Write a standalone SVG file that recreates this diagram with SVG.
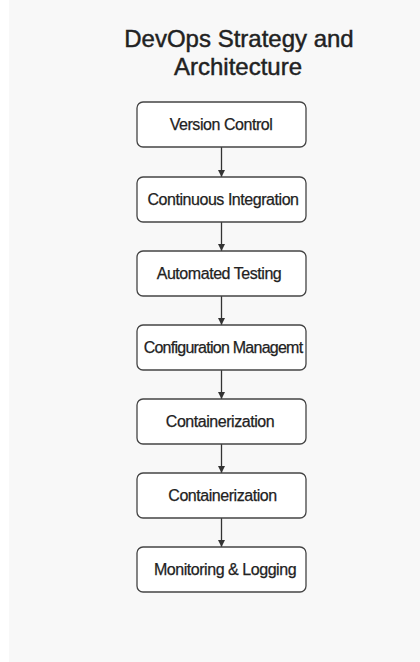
<svg xmlns="http://www.w3.org/2000/svg" width="420" height="662" viewBox="0 0 420 662">
  <defs>
    <marker id="arrow" viewBox="0 0 10 10" refX="10" refY="5" markerWidth="7" markerHeight="7" markerUnits="userSpaceOnUse" orient="auto">
      <path d="M0,0 L10,5 L0,10 Z" fill="#333"/>
    </marker>
    <style>
      .title { font-family: "Liberation Sans", Arial, sans-serif; font-size: 24px; fill: #222; stroke: #222; stroke-width: 0.45; text-anchor: middle; }
      .box { fill: #ffffff; stroke: #444; stroke-width: 1.3; }
      .label { font-family: "Liberation Sans", Arial, sans-serif; font-size: 16px; fill: #222; stroke: #222; stroke-width: 0.25; text-anchor: middle; letter-spacing: -0.45px; }
      .tight { letter-spacing: -0.75px; }
      .edge { stroke: #333; stroke-width: 1.3; fill: none; marker-end: url(#arrow); }
    </style>
  </defs>

  <!-- page background -->
  <rect x="0" y="0" width="420" height="662" fill="#ffffff"/>
  <rect x="9" y="0" width="411" height="662" fill="#f8f8f8"/>

  <!-- title -->
  <text class="title" x="239" y="47">DevOps Strategy and</text>
  <text class="title" x="238" y="75">Architecture</text>

  <!-- connectors -->
  <g id="connectors">
    <line class="edge" x1="221.5" y1="147" x2="221.5" y2="177"/>
    <line class="edge" x1="221.5" y1="222" x2="221.5" y2="251"/>
    <line class="edge" x1="221.5" y1="296" x2="221.5" y2="325"/>
    <line class="edge" x1="221.5" y1="370" x2="221.5" y2="399"/>
    <line class="edge" x1="221.5" y1="444" x2="221.5" y2="473"/>
    <line class="edge" x1="221.5" y1="518" x2="221.5" y2="547"/>
  </g>

  <!-- pipeline stages -->
  <g id="version-control">
    <rect class="box" x="137" y="102" width="169" height="45" rx="6"/>
    <text class="label" x="221" y="130">Version Control</text>
  </g>
  <g id="continuous-integration">
    <rect class="box" x="137" y="177" width="169" height="45" rx="6"/>
    <text class="label" x="223" y="205">Continuous Integration</text>
  </g>
  <g id="automated-testing">
    <rect class="box" x="137" y="251" width="169" height="45" rx="6"/>
    <text class="label" x="219" y="279">Automated Testing</text>
  </g>
  <g id="configuration-management">
    <rect class="box" x="137" y="325" width="169" height="45" rx="6"/>
    <text class="label tight" x="223" y="353">Configuration Managemt</text>
  </g>
  <g id="containerization-1">
    <rect class="box" x="137" y="399" width="169" height="45" rx="6"/>
    <text class="label" x="220" y="427">Containerization</text>
  </g>
  <g id="containerization-2">
    <rect class="box" x="137" y="473" width="169" height="45" rx="6"/>
    <text class="label" x="222.5" y="501">Containerization</text>
  </g>
  <g id="monitoring-logging">
    <rect class="box" x="137" y="547" width="169" height="45" rx="6"/>
    <text class="label" x="225" y="575">Monitoring &amp; Logging</text>
  </g>
</svg>
